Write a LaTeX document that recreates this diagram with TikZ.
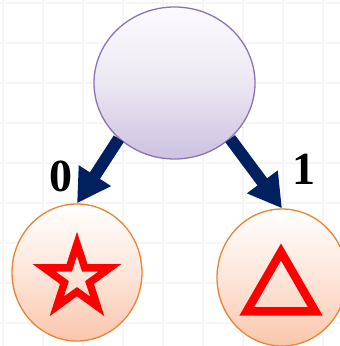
\documentclass[tikz,border=0pt]{standalone}
\usepackage{fontspec}
\setmainfont{Liberation Serif}
\usetikzlibrary{shapes.geometric,arrows.meta}
\definecolor{navy}{RGB}{0,32,96}
\definecolor{rootedge}{RGB}{140,116,180}
\definecolor{roottop}{RGB}{252,251,254}
\definecolor{rootmid}{RGB}{236,232,243}
\definecolor{rootbot}{RGB}{204,193,224}
\definecolor{leafedge}{RGB}{232,132,52}
\definecolor{leafmid}{RGB}{253,230,218}
\definecolor{leafbot}{RGB}{251,198,172}
\definecolor{symred}{RGB}{255,0,0}
\definecolor{gridc}{RGB}{245,245,245}
\tikzset{
  gridline/.style={draw=gridc, line width=1.4pt},
  rootnode/.style={ellipse, draw=rootedge, line width=1.3pt, inner sep=0pt,
    minimum width=161pt, minimum height=152pt,
    top color=roottop, bottom color=rootbot, middle color=rootmid},
  leafnode/.style={ellipse, draw=leafedge, line width=1.3pt, inner sep=0pt,
    minimum width=130pt, minimum height=137pt,
    top color=white, bottom color=leafbot, middle color=leafmid},
  branch/.style={draw=navy, line width=12pt, -{Triangle[width=36pt,length=33pt]}},
  bitlabel/.style={font=\fontsize{46}{46}\selectfont\bfseries, inner sep=0pt},
  symline/.style={draw=symred, line width=7.5pt, line join=miter}
}
\begin{document}
\begin{tikzpicture}[x=1pt,y=-1pt]
\useasboundingbox (0,0) rectangle (340,346);
\fill[white] (0,0) rectangle (340,346);
% faint background grid
\foreach \g in {3,43,...,323} \draw[gridline] (\g,0) -- (\g,346);
\foreach \g in {3,43,...,343} \draw[gridline] (0,\g) -- (340,\g);

% tree nodes
\node[rootnode] (root) at (174.5,83) {};
\node[leafnode] (lf) at (77,272.5) {};
\node[leafnode] (rt) at (282,277.5) {};

% branches
\draw[branch] (root.-135) -- (lf.north);
\draw[branch] (root.-45) -- (rt.north);

% branch labels
\node[bitlabel] (zero) at (60.5,176) {0};
\node[bitlabel] (one) at (304,169) {1};

% star symbol in the left leaf
\begin{scope}[shift={(77,278.5)}]
  \draw[symline] (-90:34.5) -- (-54:13.2) -- (-18:34.5) -- (18:13.2) -- (54:34.5)
    -- (90:13.2) -- (126:34.5) -- (162:13.2) -- (198:34.5) -- (234:13.2) -- cycle;
\end{scope}

% triangle symbol in the right leaf
\begin{scope}[shift={(281,291.5)}]
  \draw[symline, line width=8.5pt] (-90:39.5) -- (30:39.5) -- (150:39.5) -- cycle;
\end{scope}
\end{tikzpicture}
\end{document}
